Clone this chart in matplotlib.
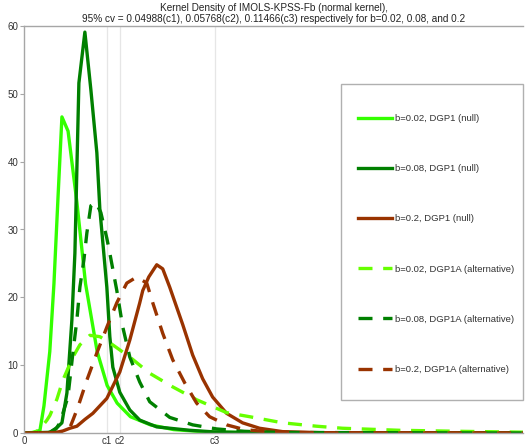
import matplotlib
matplotlib.use("Agg")
import matplotlib.pyplot as plt
from matplotlib.patches import Rectangle

plt.rcParams['font.family'] = ['Liberation Sans', 'DejaVu Sans']

# critical values
cv_vals = [0.04988, 0.05768, 0.11466]
cv_labels = ['c1', 'c2', 'c3']

# b=0.02, DGP1 (null)
x_g02 = [0, 0.005, 0.0096, 0.012, 0.0155, 0.018, 0.0205, 0.0228, 0.0265, 0.0318, 0.037, 0.044,
         0.05, 0.056, 0.064, 0.076, 0.09, 0.11, 0.14, 0.3]
y_g02 = [0, 0.05, 0.4, 4.0, 12, 22, 35, 46.6, 44.5, 34, 22, 12,
         7, 4.4, 2.4, 1.2, 0.5, 0.15, 0.03, 0]

# b=0.08, DGP1 (null)
x_g08 = [0, 0.0156, 0.0198, 0.0228, 0.0258, 0.0288, 0.0306, 0.033, 0.0366, 0.0402, 0.0438, 0.0456,
         0.0498, 0.0516, 0.0534, 0.0576, 0.0636, 0.0696, 0.0798, 0.0996, 0.115, 0.142, 0.3]
y_g08 = [0, 0.1, 0.8, 1.5, 5.9, 16.7, 26.5, 51.6, 59.1, 50.6, 41.3, 33,
         21.5, 14.2, 9.7, 6.0, 3.4, 1.9, 0.9, 0.4, 0.15, 0.05, 0]

# b=0.2, DGP1 (null)
x_b20 = [0, 0.0186, 0.0234, 0.0276, 0.0318, 0.0366, 0.0414, 0.0498, 0.0576, 0.0636, 0.0696, 0.0714,
         0.075, 0.0798, 0.0834, 0.0876, 0.0954, 0.1014, 0.1074, 0.1134, 0.1218, 0.1314, 0.1416,
         0.1555, 0.178, 0.3]
y_b20 = [0, 0.05, 0.3, 0.7, 1.0, 2.0, 2.9, 5.1, 9.0, 13.7, 19.2, 21,
         23.0, 24.8, 24.2, 21.5, 16.0, 11.5, 8.0, 5.3, 2.9, 1.5, 0.7,
         0.2, 0.05, 0]

# b=0.02, DGP1A (alternative)
x_g02a = [0, 0.0066, 0.0096, 0.0138, 0.0156, 0.0198, 0.0234, 0.0294, 0.0336, 0.0396, 0.0456, 0.0516,
          0.0636, 0.0756, 0.0894, 0.1038, 0.1218, 0.1357, 0.1555, 0.1759, 0.1915, 0.2257, 0.2617, 0.3]
y_g02a = [0, 0.1, 0.6, 1.9, 2.6, 5.0, 7.8, 11.2, 13.0, 14.4, 14.2, 13.3,
          11.2, 8.8, 6.8, 4.9, 3.0, 2.4, 1.5, 1.0, 0.7, 0.4, 0.25, 0.12]

# b=0.08, DGP1A (alternative)
x_g08a = [0, 0.0156, 0.0192, 0.0216, 0.0264, 0.0294, 0.0318, 0.0336, 0.036, 0.0378, 0.0402, 0.0432,
          0.0462, 0.0498, 0.0516, 0.0558, 0.0594, 0.0636, 0.0696, 0.0756, 0.0876, 0.1014, 0.1158,
          0.1326, 0.1537, 0.3]
y_g08a = [0, 0.1, 0.6, 1.5, 5.3, 11.8, 16.7, 21.5, 25.5, 29.5, 33.5, 34,
          32.5, 28.7, 26.5, 21.0, 15.6, 11.2, 7.5, 4.6, 2.3, 1.2, 0.6,
          0.25, 0.08, 0]

# b=0.2, DGP1A (alternative)
x_b20a = [0, 0.0246, 0.0276, 0.0294, 0.0324, 0.0378, 0.0438, 0.0498, 0.0558, 0.0618, 0.0678, 0.0738,
          0.0774, 0.0834, 0.0894, 0.0966, 0.1038, 0.1116, 0.1218, 0.1326, 0.1477, 0.178, 0.3]
y_b20a = [0, 0.1, 0.8, 1.9, 3.8, 7.8, 11.8, 15.6, 19.2, 22.1, 23.0, 22.1,
          19.2, 14.7, 10.8, 7.4, 4.4, 2.4, 1.2, 0.5, 0.15, 0.02, 0]

labels = ['b=0.02, DGP1 (null)', 'b=0.08, DGP1 (null)', 'b=0.2, DGP1 (null)',
          'b=0.02, DGP1A (alternative)', 'b=0.08, DGP1A (alternative)', 'b=0.2, DGP1A (alternative)']

title_lines = ['Kernel Density of IMOLS-KPSS-Fb (normal kernel),',
               '95% cv = 0.04988(c1), 0.05768(c2), 0.11466(c3) respectively for b=0.02, 0.08, and 0.2']

c_lg = '#33ff00'
c_lg2 = '#66ff00'
c_dg = '#008000'
c_br = '#993300'
lw = 2.4
dash = (0, (4.2, 3.2))

W, H = 528, 448
AX_L, AX_R, AX_T, AX_B = 24, 523, 26, 433

fig = plt.figure(figsize=(W/100, H/100), dpi=100)
ax = fig.add_axes([AX_L/W, (H-AX_B)/H, (AX_R-AX_L)/W, (AX_B-AX_T)/H])

def fx(px):
    return (px - AX_L) / (AX_R - AX_L)

def fy(py):
    return (AX_B - py) / (AX_B - AX_T)

series = [
    (x_g02, y_g02, c_lg, '-'),
    (x_g08, y_g08, c_dg, '-'),
    (x_b20, y_b20, c_br, '-'),
    (x_g02a, y_g02a, c_lg2, dash),
    (x_g08a, y_g08a, c_dg, dash),
    (x_b20a, y_b20a, c_br, dash),
]
for (xs, ys, c, ls), lab in zip(series, labels):
    ax.plot(xs, ys, color=c, linestyle=ls, linewidth=lw, label=lab)

ax.set_xlim(0, 0.3)
ax.set_ylim(0, 60)
ax.set_xticks([0] + cv_vals)
ax.set_xticklabels(['0'] + cv_labels)
ax.set_yticks([0, 10, 20, 30, 40, 50, 60])
for v in cv_vals:
    ax.axvline(v, color='#e6e6e6', linewidth=0.9, zorder=0)

for s in ['left', 'bottom', 'top']:
    ax.spines[s].set_color('#a6a6a6')
    ax.spines[s].set_linewidth(1.0)
ax.spines['right'].set_visible(False)
ax.tick_params(axis='both', labelsize=7, colors='#a6a6a6', labelcolor='#333333',
               length=3, width=0.8, pad=1)
ax.tick_params(axis='x', length=0, pad=2)

ax.set_title('\n'.join(title_lines), fontsize=7.2, color='#222222', pad=3, linespacing=1.15)

# legend box
ax.add_patch(Rectangle((fx(341), fy(400)), fx(523) - fx(341), fy(84) - fy(400),
                       transform=ax.transAxes, facecolor='white', edgecolor='#b0b0b0',
                       linewidth=1.0, zorder=5, clip_on=False))
leg = ax.legend(loc='upper left', bbox_to_anchor=(fx(358), fy(114)),
                fontsize=6.8, frameon=False, labelspacing=4.36, handlelength=3.6,
                handletextpad=0.3, borderpad=0, borderaxespad=0)
leg.set_zorder(6)
for t in leg.get_texts():
    t.set_color('#333333')

fig.savefig('out.png', dpi=100)
